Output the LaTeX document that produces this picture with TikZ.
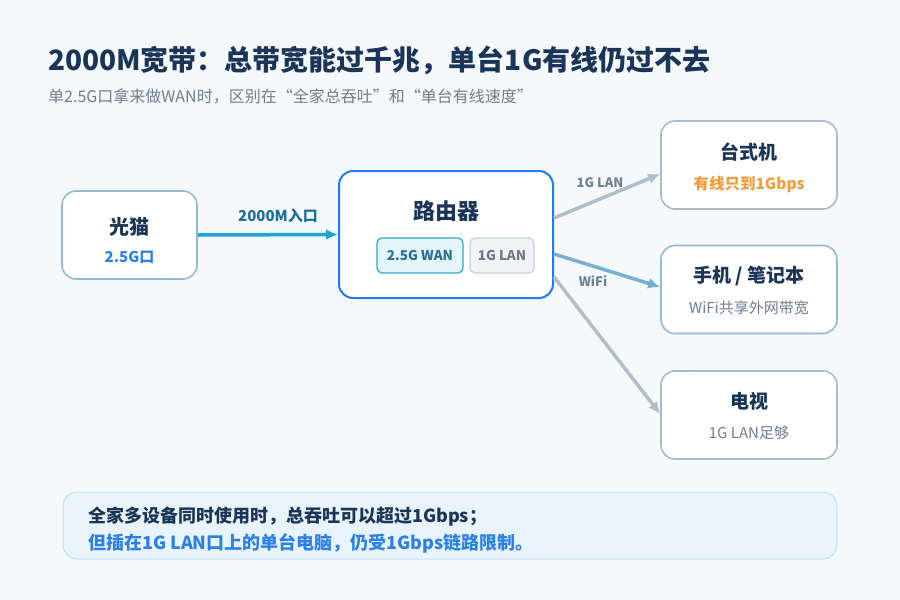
\documentclass[tikz,border=0pt]{standalone}
\usepackage{fontspec}
\setmainfont{Noto Sans CJK SC}
\usetikzlibrary{arrows.meta,positioning}
\definecolor{pagebg}{HTML}{F5F9FC}
\definecolor{navy}{HTML}{1B3558}
\definecolor{subgray}{HTML}{6E7E90}
\definecolor{modemline}{HTML}{93BBD9}
\definecolor{routerline}{HTML}{1F7BF2}
\definecolor{wanfill}{HTML}{E4F4FB}
\definecolor{wanline}{HTML}{2CA8CC}
\definecolor{wantext}{HTML}{2A6E93}
\definecolor{lanfill}{HTML}{F1F3F6}
\definecolor{lanline}{HTML}{C8D0D9}
\definecolor{lantext}{HTML}{6B7A89}
\definecolor{feedline}{HTML}{1DA6D0}
\definecolor{feedtext}{HTML}{1A6F9C}
\definecolor{wireline}{HTML}{AFBECC}
\definecolor{wiretext}{HTML}{6F8091}
\definecolor{wifiline}{HTML}{78AFD1}
\definecolor{devline}{HTML}{A9BACA}
\definecolor{phoneline}{HTML}{90BAD7}
\definecolor{warn}{HTML}{F29B3A}
\definecolor{accent}{HTML}{2B80EA}
\definecolor{notefill}{HTML}{E9F3FB}
\definecolor{noteline}{HTML}{C5DEF1}
\newcommand{\fsz}[1]{\fontsize{#1}{#1}\selectfont}
\tikzset{
  card/.style={
    draw,
    fill=white,
    rounded corners=14pt,
    line width=1.6pt,
    inner sep=0pt
  },
  devbox/.style={card, draw=devline, minimum width=176pt, minimum height=88pt},
  port/.style={
    rounded corners=5pt,
    line width=1.2pt,
    inner sep=0pt,
    minimum height=35pt,
    font=\fsz{13.5}\bfseries
  },
  link/.style={-{Latex[length=12pt,width=11pt]}, line width=3.5pt},
  headtxt/.style={inner sep=0pt, font=\fsz{19}\bfseries, text=navy},
  subtxt/.style={inner sep=0pt, font=\fsz{15}, text=subgray}
}
\begin{document}
\begin{tikzpicture}[
      x=1pt,
      y=-1pt,
      linklabel/.style={inner sep=0pt, font=\fsz{13}\bfseries, text=wiretext},
      noteline1/.style={inner sep=0pt, anchor=west, font=\fsz{18}\bfseries}
    ]
    \fill[pagebg] (0,0) rectangle (900,600);

    \node[inner sep=0pt, anchor=west, font=\fsz{28}\bfseries, text=navy] (title)
      at (48,60) {2000M宽带：总带宽能过千兆，单台1G有线仍过不去};
    \node[subtxt, anchor=west, font=\fsz{16}] (subtitle) at (48,96)
      {单2.5G口拿来做WAN时，区别在“全家总吞吐”和“单台有线速度”};

    % modem and router
    \node[card, draw=modemline, minimum width=135pt, minimum height=88pt] (modem)
      at (129.5,235) {};
    \node[headtxt, font=\fsz{20}\bfseries] (modemname) at (129.5,227) {光猫};
    \node[subtxt, font=\fsz{15}\bfseries, text=accent] (modemport) at (129.5,257)
      {2.5G口};

    \node[card, draw=routerline, line width=2pt, minimum width=214pt,
      minimum height=127pt] (router) at (446,234.5) {};
    \node[headtxt, font=\fsz{22}\bfseries] (routername) at (446,211) {路由器};
    \node[port, draw=wanline, fill=wanfill, text=wantext, minimum width=86pt] (wan)
      at (420,255.5) {2.5G WAN};
    \node[port, draw=lanline, fill=lanfill, text=lantext, minimum width=64pt] (lan)
      at (502,255.5) {1G LAN};

    % devices
    \node[devbox] (pc) at (749,165) {};
    \node[headtxt] (pcname) at (749,152) {台式机};
    \node[subtxt, font=\fsz{15.5}\bfseries, text=warn] (pcnote) at (749,184)
      {有线只到1Gbps};

    \node[devbox, draw=phoneline] (phone) at (749,289.5) {};
    \node[headtxt] (phonename) at (749,276) {手机 / 笔记本};
    \node[subtxt] (phonenote) at (749,308) {WiFi共享外网带宽};

    \node[devbox] (tv) at (749,415) {};
    \node[headtxt] (tvname) at (749,401) {电视};
    \node[subtxt] (tvnote) at (749,433) {1G LAN足够};

    % links
    \draw[link, feedline] (modem.east) -- (router.west);
    \node[linklabel, font=\fsz{15}\bfseries, text=feedtext] (feedlabel)
      at (278,216) {2000M入口};
    \draw[link, wireline] ([yshift=16.5pt]router.east) -- ([yshift=-9pt]pc.west);
    \node[linklabel] (lanlabel) at (600,183) {1G LAN};
    \draw[link, wifiline] ([yshift=-19.5pt]router.east) -- ([yshift=2.5pt]phone.west);
    \node[linklabel] (wifilabel) at (593,281) {WiFi};
    \draw[link, wireline] ([yshift=-42.5pt]router.east) -- ([yshift=1pt]tv.west);

    % note
    \node[draw=noteline, fill=notefill, line width=1pt, rounded corners=14pt,
      minimum width=774pt, minimum height=67pt] (note) at (450,525.5) {};
    \node[noteline1, text=navy] (notetop) at (88,517)
      {全家多设备同时使用时，总吞吐可以超过1Gbps；};
    \node[noteline1, text=accent] (notebottom) at (88,543)
      {但插在1G LAN口上的单台电脑，仍受1Gbps链路限制。};
  \end{tikzpicture}
\end{document}
